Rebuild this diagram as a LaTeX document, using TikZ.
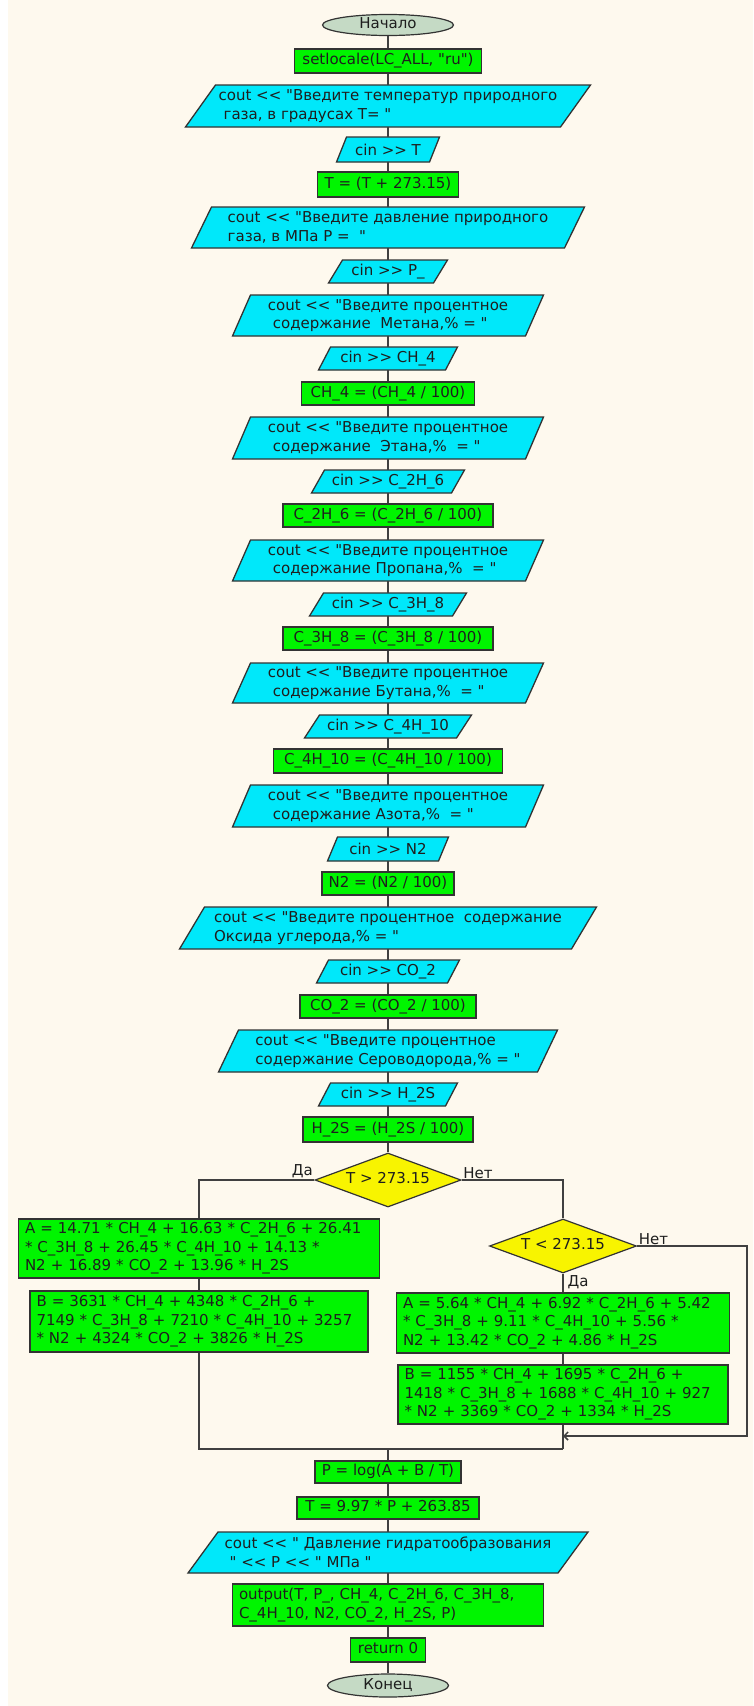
\documentclass[tikz,border=0pt]{standalone}
\usepackage{fontspec}
\setmainfont{DejaVu Sans}[Ligatures=TeXOff]
\usetikzlibrary{shapes.geometric,arrows.meta}
\definecolor{bgc}{HTML}{FEF9EE}
\definecolor{pgreen}{HTML}{00F500}
\definecolor{pcyan}{HTML}{00E8FA}
\definecolor{pyellow}{HTML}{F8F400}
\definecolor{pterm}{HTML}{C5DAC5}
\definecolor{edgec}{HTML}{333333}
\definecolor{wire}{HTML}{404040}
\definecolor{txt}{HTML}{1E1E1E}
\tikzset{
  base/.style={font=\fontsize{15}{18.5}\selectfont, text=txt, inner ysep=0pt, inner xsep=4pt},
  proc/.style={base, rectangle, draw=edgec, fill=pgreen, line width=1.3pt, align=center},
  multi/.style={proc, align=left, inner xsep=6.5pt},
  one/.style={text height=11pt, text depth=3.5pt},
  term/.style={base, ellipse, inner sep=0pt, draw=edgec, fill=pterm, line width=1.2pt, one},
  decide/.style={base, diamond, aspect=2.7, inner sep=0pt, draw=edgec, fill=pyellow, line width=1.2pt, one},
  iofill/.style={fill=pcyan, draw=edgec, line width=1.3pt, line join=miter},
  iotext/.style={base, rectangle, align=left},
  lab/.style={base, inner sep=1.5pt},
  conn/.style={draw=wire, line width=1.5pt},
}
% #1 name, #2 centre y, #3 total width, #4 height, #5 slant offset, #6 text
\newcommand\iopara[6]{%
  \path[iofill] ({388-#3/2},{#2+#4/2}) -- ({388+#3/2-#5},{#2+#4/2})
     -- ({388+#3/2},{#2-#4/2}) -- ({388-#3/2+#5},{#2-#4/2}) -- cycle;
  \node[iotext, minimum height=#4] (#1) at (388,#2) {#6};
}
\begin{document}
\begin{tikzpicture}[x=1pt,y=-1pt]
\useasboundingbox (0,0) rectangle (753,1706);
\fill[white] (0,0) rectangle (753,1706);
\fill[bgc] (8,0) rectangle (753,1706);

\node[term, minimum width=131, minimum height=21] (start) at (388,25) {Начало};
\node[proc, one, minimum width=187, minimum height=24] (s1) at (388,61) {setlocale(LC\_ALL, "ru")};
\iopara{p1}{106}{405}{42}{30}{cout << "Введите температур природного\\\hspace*{5pt}газа, в градусах T= "}
\iopara{cinT}{149.5}{103}{25}{10}{cin >> T}
\node[proc, one, minimum width=141, minimum height=25] (tb) at (388,184.5) {T = (T + 273.15)};
\iopara{p2}{227.5}{393}{41}{20}{cout << "Введите давление природного\\газа, в МПа P = \ "}
\iopara{cinP}{271.5}{119}{23}{14}{cin >> P\_}
\iopara{p3}{315.5}{311}{41}{18}{cout << "Введите процентное\\\hspace*{5pt}содержание\ \ Метана,\% = "}
\iopara{cinCH}{358.5}{139}{23}{12}{cin >> CH\_4}
\node[proc, one, minimum width=173, minimum height=23] (ch4) at (388,393.5) {CH\_4 = (CH\_4 / 100)};
\iopara{p4}{438}{311}{42}{18}{cout << "Введите процентное\\\hspace*{5pt}содержание\ \ Этана,\%\ \ = "}
\iopara{cinCb}{481.5}{153}{23}{13}{cin >> C\_2H\_6}
\node[proc, one, minimum width=210, minimum height=23] (c2) at (388,515.5) {C\_2H\_6 = (C\_2H\_6 / 100)};
\iopara{p5}{560.5}{311}{41}{18}{cout << "Введите процентное\\\hspace*{5pt}содержание Пропана,\%\ \ = "}
\iopara{cinCc}{604.5}{157}{23}{14}{cin >> C\_3H\_8}
\node[proc, one, minimum width=210, minimum height=23] (c3) at (388,638.5) {C\_3H\_8 = (C\_3H\_8 / 100)};
\iopara{p6}{683}{311}{40}{18}{cout << "Введите процентное\\\hspace*{5pt}содержание Бутана,\%\ \ = "}
\iopara{cinCd}{726.5}{167}{23}{15}{cin >> C\_4H\_10}
\node[proc, one, minimum width=229, minimum height=24] (c4) at (388,761) {C\_4H\_10 = (C\_4H\_10 / 100)};
\iopara{p7}{806}{311}{42}{18}{cout << "Введите процентное\\\hspace*{5pt}содержание Азота,\%\ \ = "}
\iopara{cinN}{849}{121}{24}{10}{cin >> N2}
\node[proc, one, minimum width=132, minimum height=23] (n2) at (388,883.5) {N2 = (N2 / 100)};
\iopara{p8}{928}{417}{42}{25}{cout << "Введите процентное\ \ содержание\\Оксида углерода,\% = "}
\iopara{cinCO}{971.5}{143}{23}{12}{cin >> CO\_2}
\node[proc, one, minimum width=176, minimum height=23] (co2) at (388,1006.5) {CO\_2 = (CO\_2 / 100)};
\iopara{p9}{1051}{339}{42}{20}{cout << "Введите процентное\\содержание Сероводорода,\% = "}
\iopara{cinH}{1094.5}{139}{23}{12}{cin >> H\_2S}
\node[proc, one, minimum width=170, minimum height=25] (h2s) at (388,1129.5) {H\_2S = (H\_2S / 100)};
\node[decide, minimum width=146, minimum height=54] (d1) at (388,1180) {T > 273.15};

\node[multi, text width=348, minimum height=59] (al) at (199,1248.5)
  {A = 14.71 * CH\_4 + 16.63 * C\_2H\_6 + 26.41\\{}* C\_3H\_8 + 26.45 * C\_4H\_10 + 14.13 *\\N2 + 16.89 * CO\_2 + 13.96 * H\_2S};
\node[multi, text width=325, minimum height=61] (bl) at (199,1321.5)
  {B = 3631 * CH\_4 + 4348 * C\_2H\_6 +\\7149 * C\_3H\_8 + 7210 * C\_4H\_10 + 3257\\{}* N2 + 4324 * CO\_2 + 3826 * H\_2S};
\node[decide, minimum width=147, minimum height=54] (d2) at (563,1246) {T < 273.15};
\node[multi, text width=320, minimum height=60] (ar) at (563,1323)
  {A = 5.64 * CH\_4 + 6.92 * C\_2H\_6 + 5.42\\{}* C\_3H\_8 + 9.11 * C\_4H\_10 + 5.56 *\\N2 + 13.42 * CO\_2 + 4.86 * H\_2S};
\node[multi, text width=317, minimum height=59] (br) at (563,1394.5)
  {B = 1155 * CH\_4 + 1695 * C\_2H\_6 +\\1418 * C\_3H\_8 + 1688 * C\_4H\_10 + 927\\{}* N2 + 3369 * CO\_2 + 1334 * H\_2S};

\node[lab, anchor=south east] (l1) at (d1.west) {Да};
\node[lab, anchor=south west] (l2) at (d1.east) {Нет};
\node[lab, anchor=south west] (l3) at (d2.east) {Нет};
\node[lab, anchor=north west, xshift=3pt] (l4) at (d2.south) {Да};

\coordinate (jl) at (199,1449);
\coordinate (jm) at (388,1449);
\coordinate (jr) at (563,1449);
\coordinate (lp) at (747,1436);
\coordinate (la) at (563,1436);

\node[proc, one, minimum width=146, minimum height=22] (pb) at (388,1472) {P = log(A + B / T)};
\node[proc, one, minimum width=182, minimum height=22] (tb2) at (388,1508) {T = 9.97 * P + 263.85};
\iopara{p10}{1552.5}{400}{41}{30}{cout << " Давление гидратообразования\\\hspace*{5pt}" << P << " МПа "}
\node[multi, text width=298, minimum height=42] (out) at (388,1605)
  {output(T, P\_, CH\_4, C\_2H\_6, C\_3H\_8,\\C\_4H\_10, N2, CO\_2, H\_2S, P)};
\node[proc, one, minimum width=75, minimum height=24] (ret) at (388,1650) {return 0};
\node[term, minimum width=121, minimum height=23] (fin) at (388,1685.5) {Конец};

\foreach \a/\b in {start/s1, s1/p1, p1/cinT, cinT/tb, tb/p2, p2/cinP, cinP/p3, p3/cinCH,
  cinCH/ch4, ch4/p4, p4/cinCb, cinCb/c2, c2/p5, p5/cinCc, cinCc/c3, c3/p6, p6/cinCd,
  cinCd/c4, c4/p7, p7/cinN, cinN/n2, n2/p8, p8/cinCO, cinCO/co2, co2/p9, p9/cinH,
  cinH/h2s, h2s/d1, al/bl, d2/ar, ar/br, pb/tb2, tb2/p10, p10/out, out/ret, ret/fin}
  \draw[conn] (\a) -- (\b);
\draw[conn] (d1.west) -| (al.north);
\draw[conn] (d1.east) -| (d2.north);
\draw[conn] (bl.south) -- (jl) -- (jr);
\draw[conn] (br.south) -- (jr);
\draw[conn, -{Straight Barb[length=4pt,width=8pt]}] (d2.east) -| (lp) -- (la);
\draw[conn] (jm) -- (pb);
\end{tikzpicture}
\end{document}
